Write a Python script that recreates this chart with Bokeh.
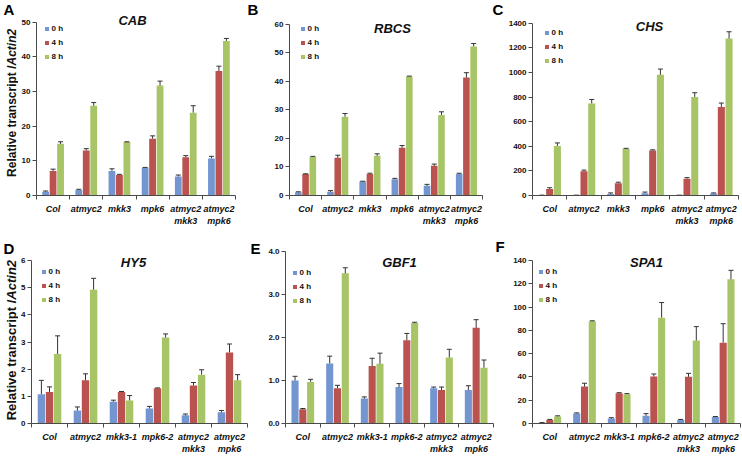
from math import pi
from bokeh.plotting import figure
from bokeh.models import (ColumnDataSource, Range1d, FixedTicker, SingleIntervalTicker,
                          Legend, LegendItem, Label, PrintfTickFormatter)
from bokeh.transform import dodge
from bokeh.layouts import column, row
from bokeh.embed import file_html
from bokeh.resources import INLINE

# ---------------- data ----------------
genotypes_top = ["Col", "atmyc2", "mkk3", "mpk6", "atmyc2\nmkk3", "atmyc2\nmpk6"]
genotypes_bottom = ["Col", "atmyc2", "mkk3-1", "mpk6-2", "atmyc2\nmkk3", "atmyc2\nmpk6"]
times = ["0 h", "4 h", "8 h"]

cab_0h = [1.1, 1.6, 7.1, 8.0, 5.5, 10.7]
cab_0h_err = [0.2, 0.2, 0.6, 0.1, 0.4, 0.6]
cab_4h = [7.1, 13.0, 5.9, 16.4, 11.0, 35.9]
cab_4h_err = [0.5, 0.5, 0.2, 0.8, 0.5, 1.4]
cab_8h = [14.9, 25.9, 15.4, 31.7, 23.9, 44.6]
cab_8h_err = [0.6, 0.9, 0.1, 1.3, 2.0, 0.7]

rbcs_0h = [1.1, 1.3, 4.9, 5.7, 3.4, 7.5]
rbcs_0h_err = [0.2, 0.4, 0.1, 0.3, 0.5, 0.3]
rbcs_4h = [7.5, 13.2, 7.5, 16.7, 10.4, 41.3]
rbcs_4h_err = [0.1, 0.9, 0.3, 0.8, 0.6, 1.7]
rbcs_8h = [13.5, 27.6, 13.9, 41.7, 28.2, 52.2]
rbcs_8h_err = [0.2, 1.1, 0.7, 0.1, 1.1, 1.0]

chs_0h = [2, 2, 13, 18, 2, 16]
chs_0h_err = [1, 1, 8, 10, 1, 5]
chs_4h = [53, 198, 100, 366, 137, 719]
chs_4h_err = [10, 8, 8, 5, 8, 32]
chs_8h = [403, 748, 380, 980, 801, 1275]
chs_8h_err = [24, 32, 3, 47, 34, 55]

hy5_0h = [1.08, 0.48, 0.80, 0.55, 0.30, 0.41]
hy5_0h_err = [0.51, 0.13, 0.06, 0.08, 0.05, 0.07]
hy5_4h = [1.16, 1.59, 1.16, 1.30, 1.40, 2.62]
hy5_4h_err = [0.19, 0.24, 0.02, 0.01, 0.11, 0.31]
hy5_8h = [2.56, 4.93, 0.85, 3.17, 1.80, 1.59]
hy5_8h_err = [0.67, 0.42, 0.18, 0.13, 0.18, 0.21]

gbf1_0h = [1.00, 1.40, 0.58, 0.85, 0.82, 0.78]
gbf1_0h_err = [0.10, 0.17, 0.04, 0.08, 0.03, 0.10]
gbf1_4h = [0.33, 0.82, 1.34, 1.94, 0.78, 2.23]
gbf1_4h_err = [0.02, 0.07, 0.18, 0.16, 0.07, 0.19]
gbf1_8h = [0.97, 3.50, 1.39, 2.34, 1.54, 1.30]
gbf1_8h_err = [0.06, 0.13, 0.25, 0.02, 0.19, 0.18]

spa1_0h = [0.6, 8.6, 4.2, 6.6, 3.0, 5.5]
spa1_0h_err = [0.2, 0.5, 0.8, 1.9, 0.5, 0.5]
spa1_4h = [3.0, 31.8, 26.0, 40.4, 40.1, 69.5]
spa1_4h_err = [0.5, 2.8, 0.5, 2.2, 3.0, 16.3]
spa1_8h = [6.1, 88.0, 25.2, 91.0, 71.4, 124.0]
spa1_8h_err = [0.5, 0.3, 0.5, 13.0, 11.9, 7.7]

# ---------------- style ----------------
FONT = "Liberation Sans"
COLORS = ["#7396D0", "#BA524F", "#A7C466"]
OFFSETS = [-0.225, 0.0, 0.225]
AXIS_COLOR = "#4a4a4a"
ERR_COLOR = "#333333"
TEXT_COLOR = "#111111"
ROW_H = 228


def make_strip(w, bb, letter, letter_pos, ylabel=None, ylab_pos=None, ylab_size="12px"):
    """Narrow side figure holding the panel letter and the y-axis title."""
    FH = ROW_H - bb
    s = figure(width=w, height=ROW_H, x_range=Range1d(0, w), y_range=Range1d(0, FH),
               x_axis_location=None, y_axis_location=None, output_backend="svg",
               toolbar_location=None, min_border_left=0, min_border_right=0,
               min_border_top=0, min_border_bottom=bb)
    s.outline_line_color = None
    s.grid.visible = False
    lx, ly = letter_pos
    s.add_layout(Label(x=lx, y=FH - ly, text=letter, text_align="left", text_baseline="top",
                       text_font=FONT, text_font_size="15px", text_font_style="bold",
                       text_color="#000000"))
    if ylabel is not None:
        yx, ysplit = ylab_pos
        s.add_layout(Label(x=yx, y=ysplit, angle=pi / 2, text=ylabel[0],
                           text_align="right", text_baseline="middle",
                           text_font=FONT, text_font_size=ylab_size, text_font_style="bold",
                           text_color=TEXT_COLOR))
        s.add_layout(Label(x=yx, y=ysplit, angle=pi / 2, text=ylabel[1],
                           text_align="left", text_baseline="middle",
                           text_font=FONT, text_font_size=ylab_size,
                           text_font_style="bold italic", text_color=TEXT_COLOR))
    return s


def make_panel(gene, genos, series, errors, ymax, step, fmt, g):
    W = g["W"]
    bl, br, bb, head = g["bl"], g["br"], g["bb"], g["head"]
    FH = ROW_H - bb
    n = len(genos)
    centers = [i + 0.5 for i in range(n)]
    ytop = ymax * FH / (FH - head)      # head-room above the axis for title and legend
    p = figure(width=W, height=ROW_H, x_range=Range1d(0, n), y_range=Range1d(0, ytop),
               output_backend="svg", toolbar_location=None,
               min_border_left=bl, min_border_right=br, min_border_top=0, min_border_bottom=bb)
    p.outline_line_color = None
    p.grid.visible = False

    ya = p.yaxis[0]
    ya.bounds = (0, ymax)
    ya.ticker = SingleIntervalTicker(interval=step, num_minor_ticks=0)
    ya.formatter = PrintfTickFormatter(format=fmt)
    ya.major_tick_out = 4
    ya.major_tick_in = 0
    ya.minor_tick_line_color = None
    ya.axis_line_color = AXIS_COLOR
    ya.major_tick_line_color = AXIS_COLOR
    ya.major_label_standoff = 2
    ya.major_label_text_font = FONT
    ya.major_label_text_font_size = "8px"
    ya.major_label_text_font_style = "bold"
    ya.major_label_text_color = TEXT_COLOR

    xa = p.xaxis[0]
    xa.ticker = FixedTicker(ticks=centers, minor_ticks=list(range(n + 1)))
    xa.major_label_overrides = {c: gname for c, gname in zip(centers, genos)}
    xa.major_tick_line_color = None
    xa.major_tick_out = 0
    xa.minor_tick_out = 4
    xa.minor_tick_in = 0
    xa.minor_tick_line_color = AXIS_COLOR
    xa.axis_line_color = AXIS_COLOR
    xa.major_label_standoff = 4
    xa.major_label_text_font = FONT
    xa.major_label_text_font_size = "9px"
    xa.major_label_text_font_style = "bold italic"
    xa.major_label_text_color = TEXT_COLOR
    xa.major_label_text_line_height = 1.2

    data = dict(pos=centers)
    for i in range(3):
        data[f"v{i}"] = series[i]
        data[f"u{i}"] = [v + e for v, e in zip(series[i], errors[i])]
    src = ColumnDataSource(data)

    rends = []
    for i in range(3):
        xd = dodge("pos", OFFSETS[i])
        r = p.vbar(x=xd, top=f"v{i}", width=0.205, source=src,
                   fill_color=COLORS[i], line_color=None)
        rends.append(r)
        p.segment(x0=xd, y0=f"v{i}", x1=xd, y1=f"u{i}", source=src,
                  line_color=ERR_COLOR, line_width=1)
        p.scatter(x=xd, y=f"u{i}", source=src, marker="dash", size=5,
                  line_color=ERR_COLOR, line_width=1)

    ldx, ldy = g["leg"]
    legend = Legend(items=[LegendItem(label=times[i], renderers=[rends[i]]) for i in range(3)],
                    location=(ldx - 2.5, FH - (head + ldy - 7) - 42), orientation="vertical",
                    border_line_color=None, background_fill_alpha=0,
                    padding=0, margin=0, spacing=0, glyph_width=5, glyph_height=5,
                    label_height=14, label_standoff=3,
                    label_text_font=FONT, label_text_font_size="8px",
                    label_text_font_style="bold", label_text_color=TEXT_COLOR)
    p.add_layout(legend)

    gdx, gdy = g["gene"]
    p.add_layout(Label(x=gdx, x_units="screen", y=ymax, y_units="data", y_offset=gdy,
                       text=gene, text_align="center", text_baseline="middle",
                       text_font=FONT, text_font_size="13px", text_font_style="bold italic",
                       text_color=TEXT_COLOR))
    return p


YLAB = ("Relative transcript /", "Actin2")

# top row
sA = make_strip(18, 30, "A", (3, 0), YLAB, (11.5, 132))
pA = make_panel("CAB", genotypes_top, [cab_0h, cab_4h, cab_8h],
                [cab_0h_err, cab_4h_err, cab_8h_err], 50, 10, "%d",
                dict(W=227, bl=14, br=10, bb=30, head=22, leg=(10, 9), gene=(96, 2)))
sB = make_strip(26, 30, "B", (2, 0))
pB = make_panel("RBCS", genotypes_top, [rbcs_0h, rbcs_4h, rbcs_8h],
                [rbcs_0h_err, rbcs_4h_err, rbcs_8h_err], 60, 10, "%d",
                dict(W=219, bl=15, br=8, bb=30, head=24, leg=(13, 7), gene=(103, -4)))
sC = make_strip(15, 30, "C", (2, 0))
pC = make_panel("CHS", genotypes_top, [chs_0h, chs_4h, chs_8h],
                [chs_0h_err, chs_4h_err, chs_8h_err], 1400, 200, "%d",
                dict(W=237, bl=26, br=4, bb=30, head=23, leg=(14, 12), gene=(117, -3)))

# bottom row
sD = make_strip(18, 28, "D", (3, 12), YLAB, (11, 127), ylab_size="13px")
pD = make_panel("HY5", genotypes_bottom, [hy5_0h, hy5_4h, hy5_8h],
                [hy5_0h_err, hy5_4h_err, hy5_8h_err], 6, 1, "%d",
                dict(W=230, bl=13, br=1, bb=28, head=33, leg=(12, 15), gene=(102, -2)))
sE = make_strip(17, 28, "E", (2, 12))
pE = make_panel("GBF1", genotypes_bottom, [gbf1_0h, gbf1_4h, gbf1_8h],
                [gbf1_0h_err, gbf1_4h_err, gbf1_8h_err], 4, 1, "%.1f",
                dict(W=229, bl=19, br=1, bb=28, head=24, leg=(9, 25), gene=(114, -11)))
sF = make_strip(16, 28, "F", (1, 10))
pF = make_panel("SPA1", genotypes_bottom, [spa1_0h, spa1_4h, spa1_8h],
                [spa1_0h_err, spa1_4h_err, spa1_8h_err], 140, 20, "%d",
                dict(W=232, bl=21, br=2, bb=28, head=33, leg=(8, 15), gene=(114, -2)))

layout = column(row(sA, pA, sB, pB, sC, pC), row(sD, pD, sE, pE, sF, pF))
open("out.html", "w").write(file_html(layout, INLINE))
